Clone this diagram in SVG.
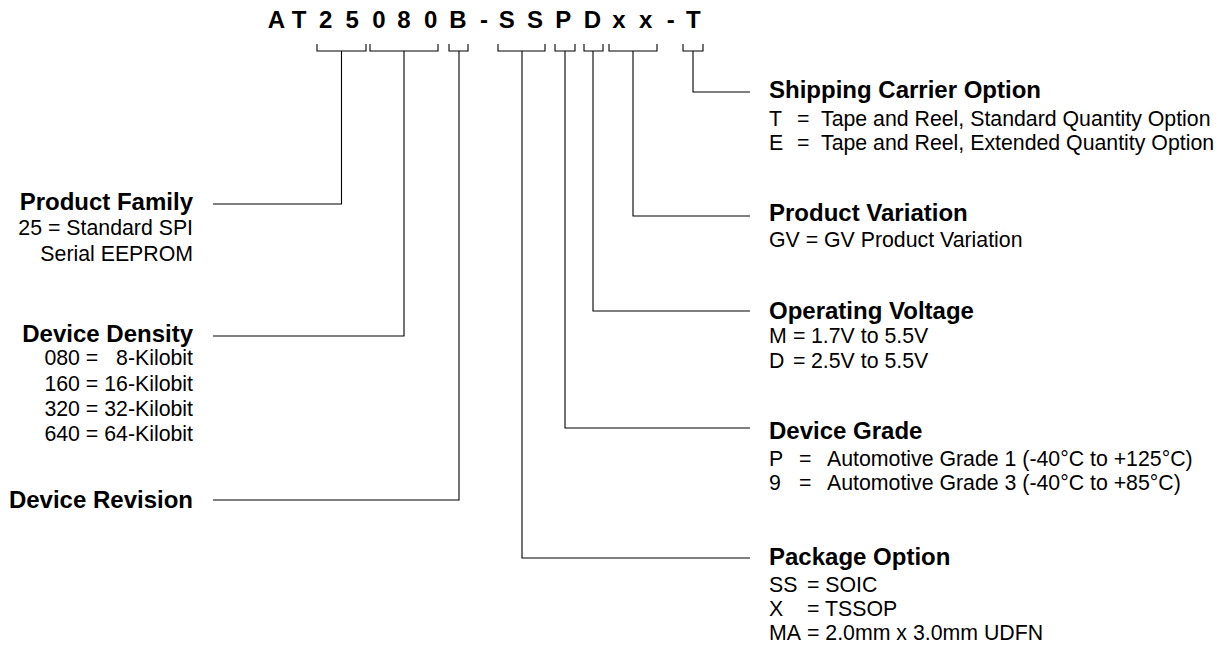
<svg xmlns="http://www.w3.org/2000/svg" width="1227" height="650" viewBox="0 0 1227 650">
<style>
text{font-family:"Liberation Sans",Arial,sans-serif;fill:#000}
.pn{font-size:24px;font-weight:bold;text-anchor:middle}
.t{font-size:24px;font-weight:bold}
.d{font-size:21.3px}
.e{text-anchor:end}
.pre{white-space:pre}
.c{fill:none;stroke:#000;stroke-width:1.1}
</style>
<rect width="1227" height="650" fill="#fff"/>
<g id="part-number">
<text class="pn" y="28" x="276.5 299.2 325.7 352.3 379 404 430.7 458 484 506.7 535 563.3 592.3 619 645.7 670.7 693.3">AT25080B-SSPDxx-T</text>
</g>
<g id="connectors">
<path class="c" d="M317 44V51H366V44M370 44V51H438V44M449 44V51H468V44M498 44V51H545V44M555 44V51H575V44M584 44V51H603V44M609 44V51H657V44M683 44V51H703V44"/>
<path class="c" d="M341.5 51V204H213"/>
<path class="c" d="M404 51V336H213"/>
<path class="c" d="M459 51V500H213"/>
<path class="c" d="M522 51V558H750"/>
<path class="c" d="M565 51V428H750"/>
<path class="c" d="M593 51V311H750"/>
<path class="c" d="M633 51V216H750"/>
<path class="c" d="M693 51V92H750"/>
</g>
<g id="product-family">
<text class="t e" x="193" y="210">Product Family</text>
<text class="d e" x="193" y="235">25 = Standard SPI</text>
<text class="d e" x="193" y="261">Serial EEPROM</text>
</g>
<g id="device-density">
<text class="t e" x="193" y="341.5">Device Density</text>
<text class="d e pre" x="193" y="365">080 =   8-Kilobit</text>
<text class="d e" x="193" y="390.5">160 = 16-Kilobit</text>
<text class="d e" x="193" y="415.5">320 = 32-Kilobit</text>
<text class="d e" x="193" y="440.5">640 = 64-Kilobit</text>
</g>
<g id="device-revision">
<text class="t e" x="193" y="508">Device Revision</text>
</g>
<g id="shipping-carrier">
<text class="t" x="769" y="98">Shipping Carrier Option</text>
<text class="d" y="126"><tspan x="769">T</tspan><tspan x="797">=</tspan><tspan x="821">Tape and Reel, Standard Quantity Option</tspan></text>
<text class="d" y="150"><tspan x="769">E</tspan><tspan x="797">=</tspan><tspan x="821">Tape and Reel, Extended Quantity Option</tspan></text>
</g>
<g id="product-variation">
<text class="t" x="769" y="221">Product Variation</text>
<text class="d" x="769" y="247">GV = GV Product Variation</text>
</g>
<g id="operating-voltage">
<text class="t" x="769" y="319">Operating Voltage</text>
<text class="d" y="343"><tspan x="769">M</tspan><tspan x="793">=</tspan><tspan x="811">1.7V to 5.5V</tspan></text>
<text class="d" y="368"><tspan x="769">D</tspan><tspan x="793">=</tspan><tspan x="811">2.5V to 5.5V</tspan></text>
</g>
<g id="device-grade">
<text class="t" x="769" y="439">Device Grade</text>
<text class="d" y="466"><tspan x="769">P</tspan><tspan x="799">=</tspan><tspan x="827">Automotive Grade 1 (-40°C to +125°C)</tspan></text>
<text class="d" y="490"><tspan x="769">9</tspan><tspan x="799">=</tspan><tspan x="827">Automotive Grade 3 (-40°C to +85°C)</tspan></text>
</g>
<g id="package-option">
<text class="t" x="769" y="565">Package Option</text>
<text class="d" y="591.5"><tspan x="769">SS</tspan><tspan x="807">= SOIC</tspan></text>
<text class="d" y="615.5"><tspan x="769">X</tspan><tspan x="807">= TSSOP</tspan></text>
<text class="d" y="640"><tspan x="769">MA</tspan><tspan x="807">= 2.0mm x 3.0mm UDFN</tspan></text>
</g>
</svg>
